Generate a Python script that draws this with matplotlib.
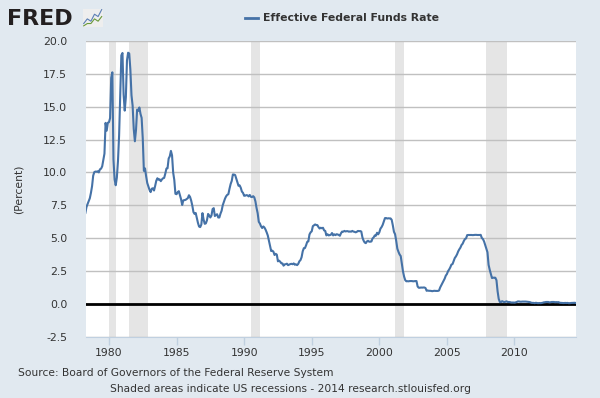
import numpy as np
import matplotlib
matplotlib.use("Agg")
import matplotlib.pyplot as plt

# monthly effective federal funds rate, Jan 1978 .. Jul 2014
rate_1978 = [6.70, 6.78, 6.79, 6.89, 7.36, 7.60, 7.81, 8.04, 8.45, 8.96, 9.76, 10.03]
rate_1979 = [10.07, 10.06, 10.09, 10.01, 10.24, 10.29, 10.47, 10.94, 11.43, 13.77, 13.18, 13.78]
rate_1980 = [13.82, 14.13, 17.19, 17.61, 10.98, 9.47, 9.03, 9.61, 10.87, 12.81, 15.85, 18.90]
rate_1981 = [19.08, 15.93, 14.70, 15.72, 18.52, 19.10, 19.04, 17.82, 15.87, 15.08, 13.31, 12.37]
rate_1982 = [13.22, 14.78, 14.68, 14.94, 14.45, 14.15, 12.59, 10.12, 10.31, 9.71, 9.20, 8.95]
rate_1983 = [8.68, 8.51, 8.77, 8.80, 8.63, 8.98, 9.37, 9.56, 9.45, 9.48, 9.34, 9.47]
rate_1984 = [9.56, 9.59, 9.91, 10.29, 10.32, 11.06, 11.23, 11.64, 11.30, 9.99, 9.43, 8.38]
rate_1985 = [8.35, 8.50, 8.58, 8.27, 7.97, 7.53, 7.88, 7.90, 7.92, 7.99, 8.05, 8.27]
rate_1986 = [8.14, 7.86, 7.48, 6.99, 6.85, 6.92, 6.56, 6.17, 5.89, 5.85, 6.04, 6.91]
rate_1987 = [6.43, 6.10, 6.13, 6.37, 6.85, 6.73, 6.58, 6.73, 7.22, 7.29, 6.69, 6.77]
rate_1988 = [6.83, 6.58, 6.58, 6.87, 7.09, 7.51, 7.75, 8.01, 8.19, 8.30, 8.35, 8.76]
rate_1989 = [9.12, 9.36, 9.85, 9.84, 9.81, 9.53, 9.24, 8.99, 9.02, 8.84, 8.55, 8.45]
rate_1990 = [8.23, 8.24, 8.28, 8.26, 8.18, 8.29, 8.15, 8.13, 8.20, 8.11, 7.81, 7.31]
rate_1991 = [6.91, 6.25, 6.12, 5.91, 5.78, 5.90, 5.82, 5.66, 5.45, 5.21, 4.81, 4.43]
rate_1992 = [4.03, 4.06, 3.98, 3.73, 3.82, 3.76, 3.25, 3.30, 3.22, 3.10, 3.09, 2.92]
rate_1993 = [3.02, 3.03, 3.07, 2.96, 3.00, 3.04, 3.06, 3.03, 3.09, 2.99, 3.02, 2.96]
rate_1994 = [3.05, 3.25, 3.34, 3.56, 4.01, 4.25, 4.26, 4.47, 4.73, 4.76, 5.29, 5.45]
rate_1995 = [5.53, 5.92, 5.98, 6.05, 6.01, 6.00, 5.85, 5.74, 5.80, 5.76, 5.80, 5.60]
rate_1996 = [5.56, 5.22, 5.31, 5.22, 5.24, 5.27, 5.40, 5.22, 5.30, 5.24, 5.31, 5.29]
rate_1997 = [5.25, 5.19, 5.39, 5.51, 5.50, 5.56, 5.52, 5.54, 5.54, 5.50, 5.52, 5.50]
rate_1998 = [5.56, 5.51, 5.49, 5.45, 5.49, 5.56, 5.54, 5.55, 5.51, 5.07, 4.83, 4.68]
rate_1999 = [4.63, 4.76, 4.81, 4.74, 4.74, 4.76, 4.99, 5.07, 5.22, 5.20, 5.42, 5.30]
rate_2000 = [5.45, 5.73, 5.85, 6.02, 6.27, 6.53, 6.54, 6.50, 6.52, 6.51, 6.51, 6.40]
rate_2001 = [5.98, 5.49, 5.31, 4.80, 4.21, 3.97, 3.77, 3.65, 3.07, 2.49, 2.09, 1.82]
rate_2002 = [1.73, 1.74, 1.73, 1.75, 1.75, 1.75, 1.73, 1.74, 1.75, 1.75, 1.34, 1.24]
rate_2003 = [1.24, 1.26, 1.25, 1.26, 1.26, 1.22, 1.01, 1.03, 1.01, 1.01, 1.00, 0.98]
rate_2004 = [1.00, 1.01, 1.00, 1.00, 1.00, 1.03, 1.26, 1.43, 1.61, 1.76, 1.93, 2.16]
rate_2005 = [2.28, 2.50, 2.63, 2.79, 3.00, 3.04, 3.26, 3.50, 3.62, 3.78, 4.00, 4.16]
rate_2006 = [4.29, 4.49, 4.59, 4.79, 4.94, 4.99, 5.24, 5.25, 5.25, 5.25, 5.25, 5.24]
rate_2007 = [5.25, 5.26, 5.26, 5.25, 5.25, 5.25, 5.26, 5.02, 4.94, 4.76, 4.49, 4.24]
rate_2008 = [3.94, 2.98, 2.61, 2.28, 1.98, 2.00, 2.01, 2.00, 1.81, 0.97, 0.39, 0.16]
rate_2009 = [0.15, 0.22, 0.18, 0.15, 0.18, 0.21, 0.16, 0.16, 0.15, 0.12, 0.12, 0.12]
rate_2010 = [0.11, 0.13, 0.16, 0.20, 0.20, 0.18, 0.18, 0.19, 0.19, 0.19, 0.19, 0.18]
rate_2011 = [0.17, 0.16, 0.14, 0.10, 0.09, 0.09, 0.07, 0.10, 0.08, 0.07, 0.08, 0.07]
rate_2012 = [0.08, 0.10, 0.13, 0.14, 0.16, 0.16, 0.16, 0.13, 0.14, 0.16, 0.16, 0.16]
rate_2013 = [0.14, 0.15, 0.14, 0.15, 0.11, 0.09, 0.09, 0.08, 0.08, 0.09, 0.08, 0.09]
rate_2014 = [0.07, 0.07, 0.08, 0.09, 0.09, 0.10, 0.09]

# recessions (start, end) in decimal years
rec_start = [1980.0, 1981.5, 1990.5, 2001.17, 2007.92]
rec_end = [1980.5, 1982.87, 1991.17, 2001.83, 2009.42]

# little logo sparkline
logo_blue = [2, 4, 3, 6, 5, 8]
logo_green = [1, 2, 2, 4, 3, 5]

rates = (rate_1978 + rate_1979 + rate_1980 + rate_1981 + rate_1982 + rate_1983
         + rate_1984 + rate_1985 + rate_1986 + rate_1987 + rate_1988 + rate_1989
         + rate_1990 + rate_1991 + rate_1992 + rate_1993 + rate_1994 + rate_1995
         + rate_1996 + rate_1997 + rate_1998 + rate_1999 + rate_2000 + rate_2001
         + rate_2002 + rate_2003 + rate_2004 + rate_2005 + rate_2006 + rate_2007
         + rate_2008 + rate_2009 + rate_2010 + rate_2011 + rate_2012 + rate_2013
         + rate_2014)
t = 1978 + np.arange(len(rates)) / 12.0

bg = '#e1e9f0'
fig = plt.figure(figsize=(6, 3.98), dpi=100, facecolor=bg)
ax = fig.add_axes([0.1433, 0.1533, 0.8167, 0.744])
ax.set_facecolor('white')

for a, b in zip(rec_start, rec_end):
    ax.axvspan(a, b, color='#e5e5e5', lw=0, zorder=0)

ax.set_ylim(-2.5, 20)
ax.set_yticks(np.arange(-2.5, 20.01, 2.5))
ax.set_yticklabels(['%.1f' % v for v in np.arange(-2.5, 20.01, 2.5)])
ax.yaxis.grid(True, color='#c0c0c0', lw=1)
ax.set_axisbelow(True)
ax.axhline(0, color='black', lw=2, zorder=2)
ax.plot(t, rates, color='#4572a7', lw=1.5, zorder=3)

ax.set_xlim(1978.3, 2014.55)
ax.set_xticks(range(1980, 2011, 5))
ax.tick_params(axis='x', length=6, color='#c0d0e0', width=1, labelsize=7.8,
               labelcolor='#333333', pad=2)
ax.tick_params(axis='y', length=0, labelsize=7.8, labelcolor='#333333', pad=13.5)
for s in ['top', 'right', 'left']:
    ax.spines[s].set_visible(False)
ax.spines['bottom'].set_color('#c0d0e0')

ax.set_ylabel('(Percent)', fontsize=7.8, color='#333333', labelpad=14)

# header
fig.text(0.012, 0.952, 'FRED', fontsize=16, fontweight='heavy', color='#231f20',
         va='center', ha='left')
lg = fig.add_axes([0.138, 0.933, 0.033, 0.045])
lg.set_facecolor('#eeeeee')
lg.plot(range(len(logo_blue)), logo_blue, color='#5b7fb5', lw=0.8)
lg.plot(range(len(logo_green)), logo_green, color='#6a9a3a', lw=0.8)
lg.set_xticks([])
lg.set_yticks([])
for s in lg.spines.values():
    s.set_visible(False)

fig.lines.append(plt.Line2D([0.408, 0.43], [0.956, 0.956], transform=fig.transFigure,
                            color='#4572a7', lw=2))
fig.text(0.438, 0.956, 'Effective Federal Funds Rate', fontsize=7.8,
         fontweight='bold', color='#333333', va='center')

# footer
fig.text(0.03, 0.063, 'Source: Board of Governors of the Federal Reserve System',
         fontsize=7.7, color='#333333', va='center')
fig.text(0.485, 0.022, 'Shaded areas indicate US recessions - 2014 research.stlouisfed.org',
         fontsize=7.7, color='#333333', va='center', ha='center')

fig.savefig('out.png', dpi=100, facecolor=bg)
